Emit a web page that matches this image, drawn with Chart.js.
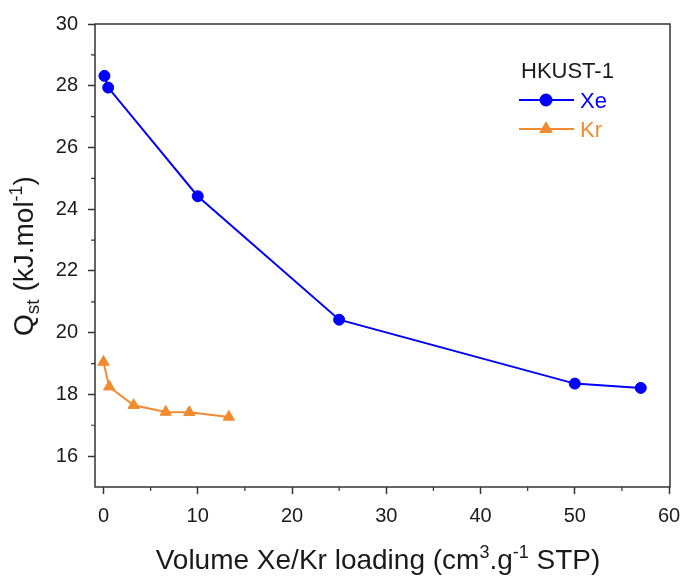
<!DOCTYPE html>
<html>
<head>
<meta charset="utf-8">
<script src="https://cdn.jsdelivr.net/npm/chart.js@4.4.1/dist/chart.umd.min.js"></script>
<style>
  html, body { margin: 0; padding: 0; background: #fff; }
  #wrap { width: 685px; height: 576px; }
</style>
</head>
<body>
<div id="wrap"><canvas id="qst-chart" width="685" height="576"></canvas></div>
<script>
// values
const xeLoading = [0.1, 0.5, 10, 25, 50, 57];
const xeQst = [28.32, 27.94, 24.42, 20.42, 18.35, 18.21];
const krLoading = [0, 0.6, 3.2, 6.6, 9.1, 13.3];
const krQst = [19.05, 18.25, 17.65, 17.43, 17.42, 17.27];
const xTicks = [0, 10, 20, 30, 40, 50, 60];
const yTicks = [16, 18, 20, 22, 24, 26, 28, 30];
const xMinor = [5, 15, 25, 35, 45, 55];
const yMinor = [17, 19, 21, 23, 25, 27, 29];
const seriesNames = ['Xe', 'Kr'];
const legendTitle = 'HKUST-1';

const FONT = 'Arial, "Liberation Sans", sans-serif';
const AXIS = '#333333';
const BLUE = '#0000ff';
const ORANGE = '#f28a30';

// draw a line of text made of runs with different sizes / offsets (sub, sup)
function drawRuns(ctx, runs, x, y) {
  let total = 0;
  runs.forEach(r => {
    ctx.font = r.size + 'px ' + FONT;
    r.w = ctx.measureText(r.t).width;
    total += r.w;
  });
  let cx = x - total / 2;
  runs.forEach(r => {
    ctx.font = r.size + 'px ' + FONT;
    ctx.fillText(r.t, cx, y + r.dy);
    cx += r.w;
  });
}

const frame = {
  id: 'frame',
  afterDraw(chart) {
    const { ctx, chartArea: a, scales: { x, y } } = chart;
    ctx.save();

    // box round the plot
    ctx.strokeStyle = AXIS;
    ctx.lineWidth = 1.5;
    ctx.strokeRect(a.left, a.top, a.right - a.left, a.bottom - a.top);

    // minor ticks
    ctx.lineWidth = 1.2;
    ctx.beginPath();
    xMinor.forEach(v => {
      const px = x.getPixelForValue(v);
      ctx.moveTo(px, a.bottom);
      ctx.lineTo(px, a.bottom + 4);
    });
    yMinor.forEach(v => {
      const py = y.getPixelForValue(v);
      ctx.moveTo(a.left, py);
      ctx.lineTo(a.left - 4, py);
    });
    ctx.stroke();

    // axis titles
    ctx.fillStyle = '#1a1a1a';
    ctx.textBaseline = 'alphabetic';
    ctx.textAlign = 'left';
    drawRuns(ctx, [
      { t: 'Volume Xe/Kr loading (cm', size: 28, dy: 0 },
      { t: '3', size: 18, dy: -11 },
      { t: '.g', size: 28, dy: 0 },
      { t: '-1', size: 18, dy: -11 },
      { t: ' STP)', size: 28, dy: 0 }
    ], 378, 569);

    ctx.save();
    ctx.translate(33, 256);
    ctx.rotate(-Math.PI / 2);
    drawRuns(ctx, [
      { t: 'Q', size: 28, dy: 0 },
      { t: 'st', size: 19, dy: 6 },
      { t: ' (kJ.mol', size: 28, dy: 0 },
      { t: '-1', size: 18, dy: -11 },
      { t: ')', size: 28, dy: 0 }
    ], 0, 0);
    ctx.restore();

    // legend
    ctx.font = '22px ' + FONT;
    ctx.fillStyle = '#1a1a1a';
    ctx.fillText(legendTitle, 521, 78);

    const rows = [
      { name: seriesNames[0], color: BLUE, style: 'circle', y: 100, base: 108 },
      { name: seriesNames[1], color: ORANGE, style: 'triangle', y: 129, base: 137 }
    ];
    rows.forEach(r => {
      ctx.strokeStyle = r.color;
      ctx.fillStyle = r.color;
      ctx.lineWidth = 2;
      ctx.beginPath();
      ctx.moveTo(519, r.y);
      ctx.lineTo(574, r.y);
      ctx.stroke();
      Chart.helpers.drawPoint(ctx, { pointStyle: r.style, radius: r.style === 'circle' ? 5.5 : 6, rotation: 0, borderWidth: 1 }, 546, r.y);
      ctx.font = '22px ' + FONT;
      ctx.fillText(r.name, 580, r.base);
    });

    ctx.restore();
  }
};

const axisGrid = {
  display: true,
  drawOnChartArea: false,
  drawTicks: true,
  tickLength: 7,
  tickWidth: 1.5,
  tickColor: AXIS
};

new Chart(document.getElementById('qst-chart').getContext('2d'), {
  type: 'line',
  data: {
    datasets: [
      {
        label: seriesNames[0],
        data: xeLoading.map((v, i) => ({ x: v, y: xeQst[i] })),
        borderColor: BLUE,
        backgroundColor: BLUE,
        borderWidth: 2,
        pointStyle: 'circle',
        pointRadius: 5.5,
        pointBorderWidth: 1,
        tension: 0
      },
      {
        label: seriesNames[1],
        data: krLoading.map((v, i) => ({ x: v, y: krQst[i] })),
        borderColor: ORANGE,
        backgroundColor: ORANGE,
        borderWidth: 2,
        pointStyle: 'triangle',
        pointRadius: 6.5,
        pointBorderWidth: 1,
        tension: 0
      }
    ]
  },
  options: {
    responsive: false,
    animation: false,
    layout: { padding: { left: 0, right: 15, top: 24, bottom: 0 } },
    plugins: {
      legend: { display: false },
      tooltip: { enabled: false }
    },
    scales: {
      x: {
        type: 'linear',
        min: -0.9,
        max: 60.1,
        afterBuildTicks: s => { s.ticks = xTicks.map(v => ({ value: v })); },
        afterFit: s => { s.height = 89; s.paddingLeft = 0; s.paddingRight = 0; },
        border: { display: false },
        grid: axisGrid,
        ticks: { color: '#1a1a1a', font: { family: FONT, size: 20 }, padding: 10, maxRotation: 0 }
      },
      y: {
        type: 'linear',
        min: 15,
        max: 30,
        afterBuildTicks: s => { s.ticks = yTicks.map(v => ({ value: v })); },
        afterFit: s => { s.width = 95; s.paddingTop = 0; s.paddingBottom = 0; },
        border: { display: false },
        grid: axisGrid,
        ticks: { color: '#1a1a1a', font: { family: FONT, size: 20 }, padding: 10 }
      }
    }
  },
  plugins: [frame]
});
</script>
</body>
</html>
